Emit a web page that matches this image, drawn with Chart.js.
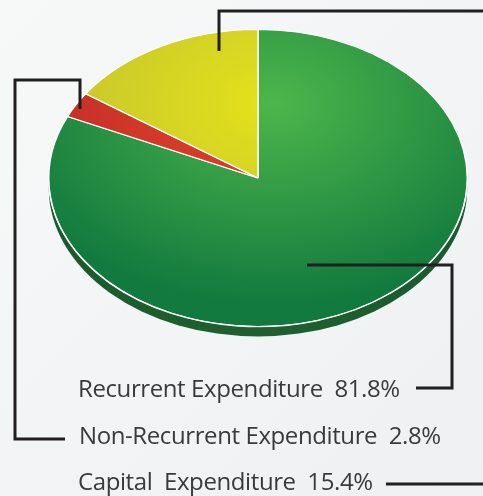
<!DOCTYPE html>
<html><head><meta charset="utf-8">
<script src="https://cdn.jsdelivr.net/npm/chart.js@4/dist/chart.umd.min.js"></script>
<style>
html,body{margin:0;padding:0;background:#f4f5f6;}
#wrap{position:relative;width:483px;height:496px;}
canvas{display:block;}
</style></head>
<body><div id="wrap"><canvas id="c" width="483" height="496"></canvas></div>
<script>
const categories = ['Recurrent Expenditure', 'Non-Recurrent Expenditure', 'Capital  Expenditure'];
const shares = [81.8, 2.8, 15.4];
const shareLabels = ['81.8%', '2.8%', '15.4%'];

// layout (not data)
const TARGET_CX = 258, TARGET_CY = 178, SQUASH = 149 / 210, DEPTH = 10;
const leaderPaths = [
  [[307,265],[452,265],[452,388],[416,388]],
  [[80,109],[80,80],[15,80],[15,439],[65,439]],
  [[219,51],[219,11],[490,11]],
  [[386,484],[490,484]]
];
const labelPos = [[78,397],[79,444],[78,490]];

function arcCenter(chart){
  const a = chart.getDatasetMeta(0).data[0];
  return {x:a.x, y:a.y, r:a.outerRadius};
}
function grad(ctx, c0, c1){
  const chart = ctx.chart;
  const area = chart.chartArea;
  if(!area) return c1;
  const cx = (area.left+area.right)/2, cy = (area.top+area.bottom)/2, r = Math.min(area.right-area.left, area.bottom-area.top)/2;
  const g = chart.ctx.createRadialGradient(cx+15, cy-105, 0, cx+15, cy-105, r*1.35);
  g.addColorStop(0, c0);
  g.addColorStop(1, c1);
  return g;
}
const colorPairs = [['#4db64b','#127a3e'],['#e3482a','#be2629'],['#e4e21a','#bebd33']];

const squashPlugin = {
  id:'squash',
  beforeDraw(chart){
    const ctx = chart.ctx;
    const g = ctx.createLinearGradient(0,0,483,496);
    g.addColorStop(0,'#f7f8f8'); g.addColorStop(0.5,'#f3f4f5'); g.addColorStop(1,'#eff0f1');
    ctx.save(); ctx.fillStyle = g; ctx.fillRect(0,0,chart.width,chart.height); ctx.restore();
  },
  beforeDatasetsDraw(chart){
    const ctx = chart.ctx; const c = arcCenter(chart);
    ctx.save();
    ctx.translate(TARGET_CX, TARGET_CY + DEPTH); ctx.scale(1, SQUASH);
    const g = ctx.createLinearGradient(-c.r,0,c.r,0);
    g.addColorStop(0,'#1b5a2c'); g.addColorStop(0.5,'#1f5f30'); g.addColorStop(1,'#1a5a2e');
    ctx.beginPath(); ctx.arc(0,0,c.r,0,Math.PI*2); ctx.fillStyle = g; ctx.fill();
    ctx.restore();
    ctx.save();
    ctx.translate(TARGET_CX, TARGET_CY); ctx.scale(1, SQUASH); ctx.translate(-c.x, -c.y);
  },
  afterDatasetsDraw(chart){
    const ctx = chart.ctx; const c = arcCenter(chart);
    ctx.restore();
    ctx.save();
    ctx.translate(TARGET_CX, TARGET_CY); ctx.scale(1, SQUASH);
    ctx.beginPath(); ctx.arc(0,0,c.r+0.3, 0.03*Math.PI, 0.97*Math.PI);
    ctx.restore();
    ctx.save(); ctx.strokeStyle = 'rgba(255,255,255,0.9)'; ctx.lineWidth = 1.3; ctx.stroke(); ctx.restore();
  },
  afterDraw(chart){
    const ctx = chart.ctx;
    ctx.save();
    ctx.strokeStyle = '#231f20'; ctx.lineWidth = 3; ctx.lineJoin = 'miter'; ctx.lineCap = 'butt';
    leaderPaths.forEach(p => {
      ctx.beginPath(); ctx.moveTo(p[0][0], p[0][1]);
      for(let i=1;i<p.length;i++) ctx.lineTo(p[i][0], p[i][1]);
      ctx.stroke();
    });
    ctx.fillStyle = '#3a3a3a'; ctx.font = '24px "Open Sans", sans-serif'; ctx.textBaseline = 'alphabetic'; ctx.textAlign = 'left';
    if ('letterSpacing' in ctx) ctx.letterSpacing = '-0.4px';
    categories.forEach((name, i) => {
      ctx.fillText(name + '  ' + shareLabels[i], labelPos[i][0], labelPos[i][1]);
    });
    ctx.restore();
  }
};

new Chart(document.getElementById('c'), {
  type:'pie',
  data:{
    labels: categories,
    datasets:[{
      data: shares,
      backgroundColor: (ctx) => grad(ctx, colorPairs[ctx.dataIndex][0], colorPairs[ctx.dataIndex][1]),
      borderColor:'#ffffff',
      borderWidth:1.5,
      hoverOffset:0
    }]
  },
  options:{
    responsive:false,
    animation:false,
    rotation:0,
    layout:{padding:{left:48, right:15, top:0, bottom:76}},
    plugins:{legend:{display:false}, tooltip:{enabled:false}}
  },
  plugins:[squashPlugin]
});
</script>
</body></html>
